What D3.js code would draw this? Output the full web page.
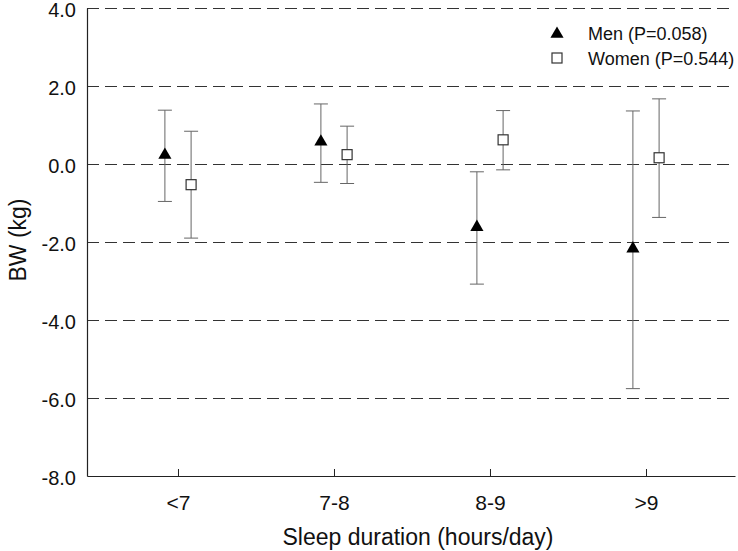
<!DOCTYPE html>
<html><head><meta charset="utf-8">
<script src="https://cdn.jsdelivr.net/npm/d3@7"></script>
<style>body{margin:0;background:#fff}svg{display:block;font-family:"Liberation Sans",Arial,sans-serif}</style>
</head><body>
<svg id="c" width="738" height="551"></svg>
<script>
const categories = ["<7", "7-8", "8-9", ">9"];
const menMean  = [0.23, 0.57, -1.62, -2.17];
const menLow   = [-0.96, -0.47, -3.08, -5.76];
const menHigh  = [1.38, 1.54, -0.20, 1.36];
const womenMean = [-0.53, 0.24, 0.62, 0.16];
const womenLow  = [-1.90, -0.50, -0.15, -1.37];
const womenHigh = [0.84, 0.97, 1.37, 1.67];
const yTicks = [-8, -6, -4, -2, 0, 2, 4];
const yTickLabels = ["-8.0", "-6.0", "-4.0", "-2.0", "0.0", "2.0", "4.0"];
const legendLabels = ["Men (P=0.058)", "Women (P=0.544)"];

const svg = d3.select("#c");
const L = 87, R = 735, T = 8, B = 476;
const x = d3.scaleLinear().domain([0.4167, 4.5705]).range([L, R]);
const y = d3.scaleLinear().domain([-8, 4]).range([B, T]);
const off = 0.084;
const FF = "Liberation Sans, Arial, sans-serif";

// gridlines
svg.append("g").selectAll("line").data(yTicks.filter(d => d > -8)).join("line")
  .attr("x1", L).attr("x2", R).attr("y1", d => Math.round(y(d)) + 0.5).attr("y2", d => Math.round(y(d)) + 0.5)
  .attr("stroke", "#333").attr("stroke-width", 1).attr("stroke-dasharray", "12,6");

// axes
const ya = d3.axisLeft(y).tickValues(yTicks).tickFormat((d, i) => yTickLabels[i]).tickSize(0).tickPadding(11);
const gy = svg.append("g").attr("transform", `translate(${L},0)`).call(ya);
gy.select(".domain").attr("stroke", "#222").attr("stroke-width", 1.2);
gy.selectAll("text").attr("font-size", 20).attr("dy", "0.4em").attr("fill", "#111").attr("font-family", FF);

const xa = d3.axisBottom(x).tickValues([1,2,3,4]).tickFormat((d,i) => categories[i]).tickSizeInner(-7).tickSizeOuter(0).tickPadding(19);
const gx = svg.append("g").attr("transform", `translate(0,${B})`).call(xa);
gx.select(".domain").attr("stroke", "#222").attr("stroke-width", 1.2);
gx.selectAll(".tick line").attr("stroke", "#222");
gx.selectAll("text").attr("font-size", 21).attr("fill", "#111").attr("font-family", FF);

// axis titles
svg.append("text").attr("x", 418).attr("y", 545).attr("text-anchor", "middle")
  .attr("font-size", 23).attr("fill", "#111").text("Sleep duration (hours/day)");
svg.append("text").attr("transform", "translate(26,240) rotate(-90)").attr("text-anchor", "middle")
  .attr("font-size", 23).attr("fill", "#111").text("BW (kg)");

function errorBars(mean, lo, hi, dx) {
  const g = svg.append("g");
  categories.forEach((c, i) => {
    const cx = x(i + 1 + dx);
    g.append("line").attr("x1", cx).attr("x2", cx).attr("y1", y(lo[i])).attr("y2", y(hi[i])).attr("stroke", "#666");
    [lo[i], hi[i]].forEach(v => g.append("line").attr("x1", cx - 7).attr("x2", cx + 7)
      .attr("y1", y(v)).attr("y2", y(v)).attr("stroke", "#666"));
  });
}
errorBars(menMean, menLow, menHigh, -off);
errorBars(womenMean, womenLow, womenHigh, off);

const tri = d3.symbol().type(d3.symbolTriangle).size(75);
svg.append("g").selectAll("path").data(menMean).join("path")
  .attr("d", tri).attr("transform", (d, i) => `translate(${x(i + 1 - off)},${y(d)})`).attr("fill", "#000");
svg.append("g").selectAll("rect").data(womenMean).join("rect")
  .attr("x", (d, i) => x(i + 1 + off) - 5).attr("y", d => y(d) - 5).attr("width", 10).attr("height", 10)
  .attr("fill", "#fff").attr("stroke", "#333").attr("stroke-width", 1.2);

// legend
const lg = svg.append("g");
lg.append("path").attr("d", tri).attr("transform", "translate(557,34)").attr("fill", "#000");
lg.append("rect").attr("x", 552).attr("y", 53).attr("width", 10).attr("height", 10).attr("fill", "#fff").attr("stroke", "#333").attr("stroke-width", 1.2);
lg.selectAll("text").data(legendLabels).join("text").attr("x", 588).attr("y", (d, i) => 40 + i * 25)
  .attr("font-size", 18).attr("fill", "#111").text(d => d);
</script>
</body></html>
